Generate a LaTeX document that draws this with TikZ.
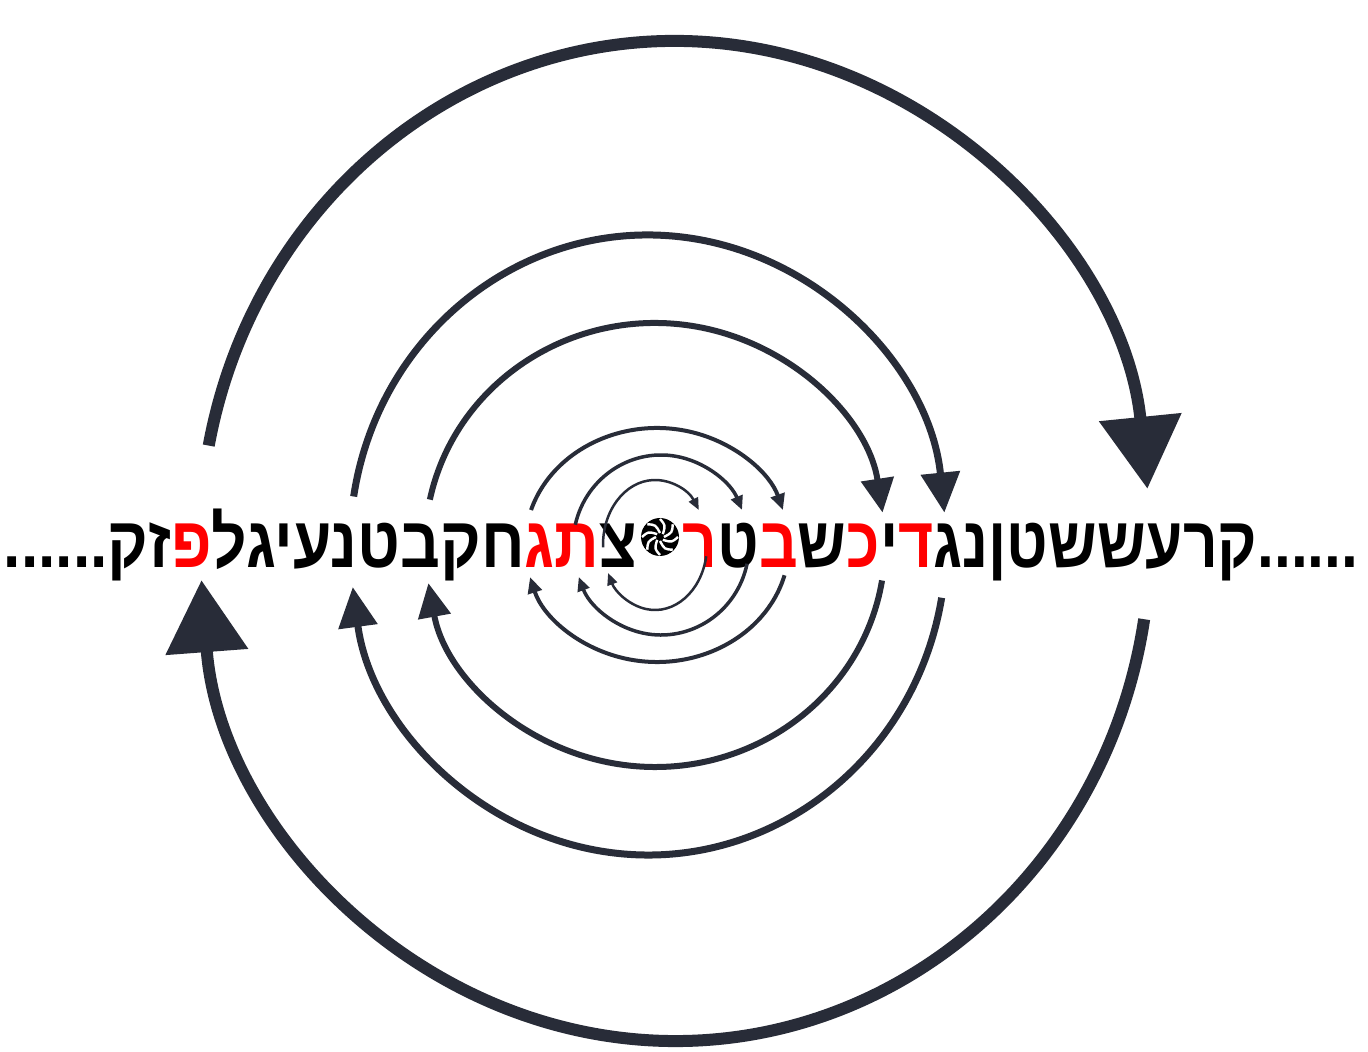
\documentclass[tikz,border=0pt]{standalone}
\usepackage{fontspec}
\usepackage{xcolor}
\usepackage{tikz}
\usetikzlibrary{arrows.meta,calc}
\TeXXeTstate=1
\newfontfamily\hebfont[Script=Hebrew]{Liberation Sans}
\definecolor{ringc}{RGB}{40,44,56}
\newif\ifredpass
\newcommand{\hl}[1]{\ifredpass\hbox{#1}\else\hbox{\phantom{#1}}\fi}
\newcommand{\bk}[1]{\ifredpass\hbox{\phantom{#1}}\else#1\fi}
\newcommand{\rightletters}{\beginR\bk{\hbox{......}קרעששטןנג}\hl{ד}\bk{י}\hl{כ}\bk{ש}\hl{ב}\bk{ט}\hl{ר}\endR}
\newcommand{\leftletters}{\beginR\bk{צ}\hl{ת}\hl{ג}\bk{חקבטנעיגל}\hl{פ}\bk{זק\hbox{......}}\endR}

\begin{document}
\begin{tikzpicture}[x=1pt,y=1pt,
    ring/.style={draw=ringc},
    hebline/.style={font=\hebfont\bfseries\fontsize{72}{76}\selectfont,inner sep=0pt,transform shape}]
  \useasboundingbox[fill=white] (0,0) rectangle (1368,1052);

  %% ── centres of the rings ──
  \coordinate (c1) at (675,511);
  \coordinate (c2) at (648,507);
  \coordinate (c3) at (655,507);
  \coordinate (c4) at (657,507);
  \coordinate (c5) at (661,507);
  \coordinate (c6) at (655,507);

  %% ── the line of letters (red pass and black pass) ──
  \node[circle,fill=black,minimum size=38pt,inner sep=0pt] (hub) at (660,515) {};
  \foreach \a in {0,45,...,315}
    \draw[white,line width=2.4pt] ($(hub)+(\a:4)$) .. controls ($(hub)+(\a+20:13)$) .. ($(hub)+(\a+45:18)$);
  \node[hebline,xscale=0.84,text=red,anchor=base west,xshift=4pt] (rightred) at (hub.east |- 0,484) {\redpasstrue\rightletters};
  \node[hebline,xscale=0.84,anchor=base west,xshift=4pt] (rightpart) at (hub.east |- 0,484) {\rightletters};
  \node[hebline,xscale=0.865,text=red,anchor=base east,xshift=-4pt] (leftred) at (hub.west |- 0,484) {\redpasstrue\leftletters};
  \node[hebline,xscale=0.865,anchor=base east,xshift=-4pt] (leftpart) at (hub.west |- 0,484) {\leftletters};

  %% ── ring 1 ──
  \draw[ring,line width=12pt,-{Triangle[length=72pt,width=80pt]}]
    ($(c1)+(169:475 and 500)$) arc[start angle=169,end angle=6,x radius=475,y radius=500];
  \draw[ring,line width=12pt,-{Triangle[length=72pt,width=80pt]}]
    ($(c1)+(-9:475 and 500)$) arc[start angle=-9,end angle=-175.5,x radius=475,y radius=500];

  %% ── ring 2 ──
  \draw[ring,line width=7pt,-{Triangle[length=40pt,width=38pt]}]
    ($(c2)+(171:298 and 310)$) arc[start angle=171,end angle=6,x radius=298,y radius=310];
  \draw[ring,line width=7pt,-{Triangle[length=40pt,width=38pt]}]
    ($(c2)+(-9.8:298 and 310)$) arc[start angle=-9.8,end angle=-172.2,x radius=298,y radius=310];

  %% ── ring 3 ──
  \draw[ring,line width=6pt,-{Triangle[length=34pt,width=32pt]}]
    ($(c3)+(168.2:230 and 222)$) arc[start angle=168.2,end angle=8.4,x radius=230,y radius=222];
  \draw[ring,line width=6pt,-{Triangle[length=34pt,width=32pt]}]
    ($(c3)+(-9.2:230 and 222)$) arc[start angle=-9.2,end angle=-170.1,x radius=230,y radius=222];

  %% ── ring 4 ──
  \draw[ring,line width=4pt,-{Triangle[length=16pt,width=14pt]}]
    ($(c4)+(162.6:132 and 117)$) arc[start angle=162.6,end angle=17.4,x radius=132,y radius=117];
  \draw[ring,line width=4pt,-{Triangle[length=16pt,width=14pt]}]
    ($(c4)+(-15:132 and 117)$) arc[start angle=-15,end angle=-164.1,x radius=132,y radius=117];

  %% ── ring 5 ──
  \draw[ring,line width=3.5pt,-{Triangle[length=14pt,width=12pt]}]
    ($(c5)+(167:88 and 90)$) arc[start angle=167,end angle=22.9,x radius=88,y radius=90];
  \draw[ring,line width=3.5pt,-{Triangle[length=14pt,width=12pt]}]
    ($(c5)+(-12:88 and 90)$) arc[start angle=-12,end angle=-159.2,x radius=88,y radius=90];

  %% ── ring 6 ──
  \draw[ring,line width=2.5pt,-{Triangle[length=12pt,width=10pt]}]
    ($(c6)+(182:52 and 65)$) arc[start angle=182,end angle=32.6,x radius=52,y radius=65];
  \draw[ring,line width=2.5pt,-{Triangle[length=12pt,width=10pt]}]
    ($(c6)+(-10:52 and 65)$) arc[start angle=-10,end angle=-154.5,x radius=52,y radius=65];
\end{tikzpicture}
\end{document}
